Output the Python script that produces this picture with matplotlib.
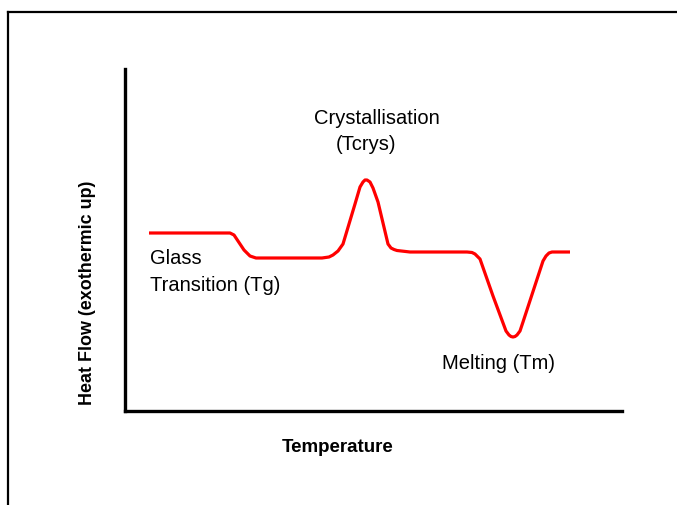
import matplotlib
matplotlib.use("Agg")
import matplotlib.pyplot as plt
from matplotlib.lines import Line2D

plt.rcParams['font.family'] = ['Liberation Sans', 'DejaVu Sans']

# Curve (arbitrary units: temperature, heat flow)
temperature = [24, 105, 109, 113, 119, 125, 131, 197, 204, 208, 213, 218, 230, 235, 238,
               240, 242, 245, 248, 253, 263, 266, 269, 272, 285, 342, 347, 350, 355, 368,
               381, 384, 386, 388, 390, 392, 395, 398, 418, 421, 424, 427, 445]
heat_flow = [178, 178, 176, 170, 161, 155, 153, 153, 154, 156, 160, 167, 207, 224, 229,
             231, 231, 229, 223, 209, 167, 163, 161.5, 160.5, 159, 159, 158.5, 157, 152, 115,
             80, 76, 74.5, 74, 74.5, 76, 80, 89, 150, 155, 158, 159, 159]

annotations = [
    ("Crystallisation", 252, 293, 'center'),
    ("(Tcrys)", 241, 267, 'center'),
    ("Glass\nTransition (Tg)", 25, 140, 'left'),
    ("Melting (Tm)", 373, 48, 'center'),
]

W, H = 677, 506
fig = plt.figure(figsize=(W / 100, H / 100), dpi=100)
ax = fig.add_axes([125 / W, 1 - 412 / H, (622 - 125) / W, (412 - 70) / H])
ax.plot(temperature, heat_flow, color='#ff0000', lw=2.3, solid_joinstyle='round',
        solid_capstyle='butt')
ax.set_xlim(0, 497)
ax.set_ylim(0, 342)
ax.set_xticks([])
ax.set_yticks([])
for s in ['top', 'right']:
    ax.spines[s].set_visible(False)
for s in ['left', 'bottom']:
    ax.spines[s].set_linewidth(2.4)
    ax.spines[s].set_color('black')

for txt, x, y, ha in annotations:
    ax.text(x, y, txt, ha=ha, va='center', fontsize=14.5, color='black',
            linespacing=1.55)

fig.text(338 / W, 1 - 448 / H, "Temperature", ha='center', va='center',
         fontsize=13.5, fontweight='bold')
fig.text(88 / W, 1 - 293 / H, "Heat Flow (exothermic up)", ha='center', va='center',
         rotation=90, fontsize=12.9, fontweight='bold')

# outer frame (top and left)
fig.add_artist(Line2D([8 / W, 1.0], [1 - 13 / H, 1 - 13 / H], color='black', lw=1.6,
                      transform=fig.transFigure))
fig.add_artist(Line2D([8 / W, 8 / W], [1 - 13 / H, 0.0], color='black', lw=1.6,
                      transform=fig.transFigure))

fig.savefig("out.png", dpi=100)
